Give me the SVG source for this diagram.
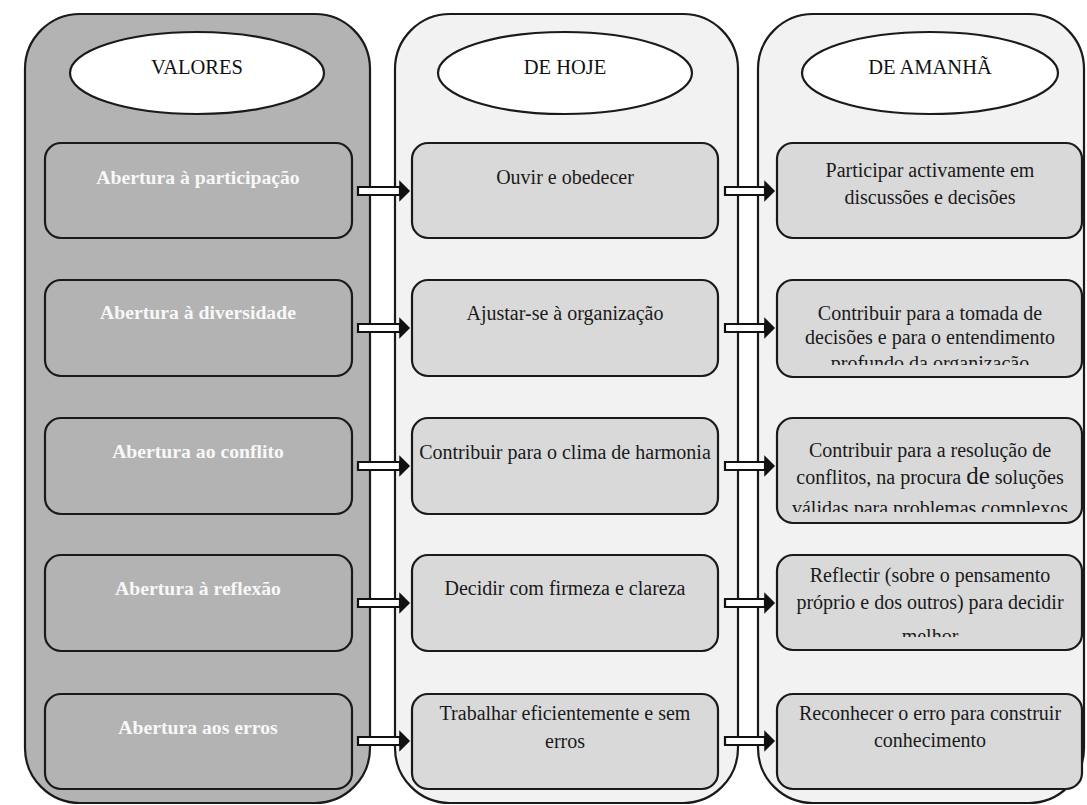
<svg xmlns="http://www.w3.org/2000/svg" width="1087" height="805" viewBox="0 0 1087 805">
<style>
.colA{fill:#b3b3b3;stroke:#1a1a1a;stroke-width:2.2}
.colB{fill:#f2f2f2;stroke:#1a1a1a;stroke-width:2.2}
.ell{fill:#ffffff;stroke:#1a1a1a;stroke-width:2.2}
.boxA{fill:#b3b3b3;stroke:#1a1a1a;stroke-width:2.2}
.boxB{fill:#d9d9d9;stroke:#1a1a1a;stroke-width:2.2}
text{font-family:'Liberation Serif','DejaVu Serif','Times New Roman',serif;text-anchor:middle}
.hd{font-size:20.5px;fill:#111}
.tw{font-size:19.7px;font-weight:bold;fill:#f8f8f8}
.tb{font-size:20px;fill:#1a1a1a}
.arr{fill:#ffffff;stroke:#111;stroke-width:2.2;stroke-linejoin:miter}
.hdh{fill:#111;stroke:#111;stroke-width:1.5;stroke-linejoin:miter}
</style>
<defs>
<clipPath id="c2"><rect x="777" y="280" width="305" height="85"/></clipPath>
<clipPath id="c3"><rect x="777" y="418" width="305" height="94"/></clipPath>
<clipPath id="c4"><rect x="777" y="555" width="305" height="82"/></clipPath>
</defs>
<rect width="1087" height="805" fill="#ffffff"/>
<g id="col-valores">
<rect class="colA" x="25" y="14" width="345" height="789" rx="55" ry="55"/>
<ellipse class="ell" cx="197" cy="73" rx="127" ry="41"/>
<text class="hd" x="197" y="74">VALORES</text>
</g>
<g id="col-hoje">
<rect class="colB" x="395" y="14" width="343" height="789" rx="55" ry="55"/>
<ellipse class="ell" cx="565" cy="73" rx="127" ry="41"/>
<text class="hd" x="565" y="74">DE HOJE</text>
</g>
<g id="col-amanha">
<rect class="colB" x="758" y="14" width="326" height="789" rx="55" ry="55"/>
<ellipse class="ell" cx="930" cy="73" rx="128" ry="41"/>
<text class="hd" x="930" y="74">DE AMANHÃ</text>
</g>
<g id="v1"><rect class="boxA" x="45" y="143" width="307" height="95" rx="16"/><text class="tw" x="198" y="184">Abertura à participação</text></g>
<g id="v2"><rect class="boxA" x="45" y="280" width="307" height="96" rx="16"/><text class="tw" x="198" y="319">Abertura à diversidade</text></g>
<g id="v3"><rect class="boxA" x="45" y="418" width="307" height="96" rx="16"/><text class="tw" x="198" y="458">Abertura ao conflito</text></g>
<g id="v4"><rect class="boxA" x="45" y="555" width="307" height="96" rx="16"/><text class="tw" x="198" y="595">Abertura à reflexão</text></g>
<g id="v5"><rect class="boxA" x="45" y="694" width="307" height="95" rx="16"/><text class="tw" x="198" y="734">Abertura aos erros</text></g>
<g id="h1"><rect class="boxB" x="412" y="143" width="306" height="95" rx="16"/><text class="tb" x="565" y="184">Ouvir e obedecer</text></g>
<g id="h2"><rect class="boxB" x="412" y="280" width="306" height="96" rx="16"/><text class="tb" x="565" y="320">Ajustar-se à organização</text></g>
<g id="h3"><rect class="boxB" x="412" y="418" width="306" height="96" rx="16"/><text class="tb" x="565" y="459">Contribuir para o clima de harmonia</text></g>
<g id="h4"><rect class="boxB" x="412" y="555" width="306" height="96" rx="16"/><text class="tb" x="565" y="595">Decidir com firmeza e clareza</text></g>
<g id="h5"><rect class="boxB" x="412" y="694" width="306" height="95" rx="16"/><text class="tb" x="565" y="720">Trabalhar eficientemente e sem</text><text class="tb" x="565" y="748">erros</text></g>
<g id="a1"><rect class="boxB" x="777" y="143" width="305" height="95" rx="16"/><text class="tb" x="930" y="177">Participar activamente em</text><text class="tb" x="930" y="204">discussões e decisões</text></g>
<g id="a2"><rect class="boxB" x="777" y="280" width="305" height="97" rx="16"/><g clip-path="url(#c2)"><text class="tb" x="930" y="320">Contribuir para a tomada de</text><text class="tb" x="930" y="344">decisões e para o entendimento</text><text class="tb" x="930" y="370">profundo da organização</text></g></g>
<g id="a3"><rect class="boxB" x="777" y="418" width="305" height="105" rx="16"/><g clip-path="url(#c3)"><text class="tb" x="930" y="457">Contribuir para a resolução de</text><text class="tb" x="930" y="484">conflitos, na procura <tspan font-size="25">de</tspan> soluções</text><text class="tb" x="930" y="515">válidas para problemas complexos</text></g></g>
<g id="a4"><rect class="boxB" x="777" y="555" width="305" height="95" rx="16"/><g clip-path="url(#c4)"><text class="tb" x="930" y="582">Reflectir (sobre o pensamento</text><text class="tb" x="930" y="609">próprio e dos outros) para decidir</text><text class="tb" x="930" y="643">melhor</text></g></g>
<g id="a5"><rect class="boxB" x="777" y="694" width="305" height="95" rx="16"/><text class="tb" x="930" y="720">Reconhecer o erro para construir</text><text class="tb" x="930" y="747">conhecimento</text></g>
<g id="connectors">
<path class="arr" d="M358,187 H400 V195 H358 Z"/><path class="hdh" d="M400,182 L409,191 L400,200 Z"/>
<path class="arr" d="M358,324 H400 V332 H358 Z"/><path class="hdh" d="M400,319 L409,328 L400,337 Z"/>
<path class="arr" d="M358,462 H400 V470 H358 Z"/><path class="hdh" d="M400,457 L409,466 L400,475 Z"/>
<path class="arr" d="M358,599 H400 V607 H358 Z"/><path class="hdh" d="M400,594 L409,603 L400,612 Z"/>
<path class="arr" d="M358,737 H400 V745 H358 Z"/><path class="hdh" d="M400,732 L409,741 L400,750 Z"/>
<path class="arr" d="M725,187 H765 V195 H725 Z"/><path class="hdh" d="M765,182 L774,191 L765,200 Z"/>
<path class="arr" d="M725,324 H765 V332 H725 Z"/><path class="hdh" d="M765,319 L774,328 L765,337 Z"/>
<path class="arr" d="M725,462 H765 V470 H725 Z"/><path class="hdh" d="M765,457 L774,466 L765,475 Z"/>
<path class="arr" d="M725,599 H765 V607 H725 Z"/><path class="hdh" d="M765,594 L774,603 L765,612 Z"/>
<path class="arr" d="M725,737 H765 V745 H725 Z"/><path class="hdh" d="M765,732 L774,741 L765,750 Z"/>
</g>
</svg>
